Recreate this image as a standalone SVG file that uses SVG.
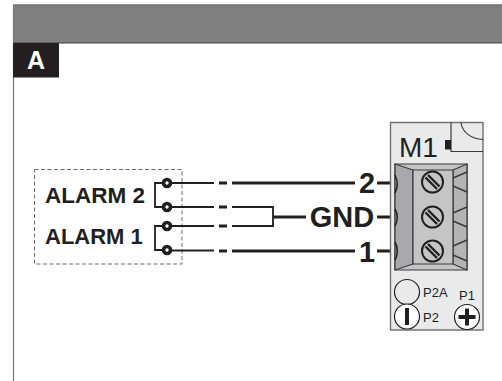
<svg xmlns="http://www.w3.org/2000/svg" width="502" height="381" viewBox="0 0 502 381">
<style>
text{font-family:"Liberation Sans",Arial,sans-serif;fill:#231f20}
.b{font-weight:bold}
.w{fill:none;stroke:#231f20;stroke-width:2.800}
.t{fill:none;stroke:#231f20;stroke-width:1.800}
.o{stroke:#3a3a3c;stroke-width:1.200;stroke-linejoin:round}
.s{fill:none;stroke:#3a3a3c;stroke-width:1.500}
.p{fill:#fff;stroke:#231f20;stroke-width:3.600}
</style>
<defs>
<g id="screw"><circle r="10.500" fill="#c4c5c7" stroke="#231f20" stroke-width="2"/><path d="M-7-4.500 4.500 7M-4.500-7 7 4.500" fill="none" stroke="#231f20" stroke-width="2.400"/></g>
</defs>
<g id="header">
<rect x="13" y="4.500" width="489" height="38.500" fill="#808083"/>
<path d="M13 43H502" stroke="#3f3f41" stroke-width="1.200" fill="none"/>
<path d="M13 5H502" stroke="#6a6a6c" stroke-width="1" fill="none"/>
<path d="M13.500 5V381" stroke="#77777a" stroke-width="1.200" fill="none"/>
</g>
<g id="tab-a">
<rect x="13" y="43" width="46" height="34.500" fill="#231f20"/>
<text x="36" y="69" text-anchor="middle" class="b" font-size="25" style="fill:#fff">A</text>
</g>
<g id="alarm-box">
<rect x="34.500" y="169.500" width="147.500" height="94.500" fill="none" stroke="#6d6e71" stroke-width="1" stroke-dasharray="4 2.500"/>
<text x="45" y="203" class="b" font-size="22.500">ALARM 2</text>
<text x="45" y="244" class="b" font-size="22">ALARM 1</text>
</g>
<g id="connectors">
<path class="t" d="M167 183H155V207H167M167 226H155V250H167"/>
<path class="t" d="M167 183H214M167 207H214M167 226H214M167 250.500H214"/>
<path class="w" d="M219 183H227M219 207H227M219 226H227M219 251H227"/>
<path class="w" d="M232 183H355M232 251H355"/>
<path class="t" d="M232 207H273V226H232"/>
<path class="w" d="M273 217H306M377 183H397M377 217H397M377 251H397"/>
</g>
<g id="terminals">
<circle class="p" cx="167" cy="183" r="3.500"/>
<circle class="p" cx="167" cy="207" r="3.500"/>
<circle class="p" cx="167" cy="226" r="3.500"/>
<circle class="p" cx="167" cy="250" r="3.500"/>
</g>
<g id="labels">
<text x="367" y="193" text-anchor="middle" class="b" font-size="29">2</text>
<text x="342" y="226.500" text-anchor="middle" class="b" font-size="29">GND</text>
<text x="367" y="262" text-anchor="middle" class="b" font-size="29">1</text>
</g>
<g id="device-m1">
<rect x="390.500" y="122.500" width="92.500" height="207.500" fill="#e9eaeb" stroke="#6d6e71" stroke-width="1.400"/>
<path d="M451 122.500V151.500H483" fill="none" stroke="#3a3a3c" stroke-width="1.200"/>
<path d="M461 122.500C462 132 471 139 483 139.500" fill="none" stroke="#3a3a3c" stroke-width="1.200"/>
<rect x="445" y="140" width="6" height="9.500" fill="#231f20"/>
<text x="399" y="157" font-size="28">M1</text>
<path class="o" d="M395 164H467V270H395Z" fill="#c4c5c7"/>
<path class="o" d="M395 164 413 170V264L395 270Z" fill="#a7a9ac"/>
<path class="o" d="M453 170 467 164V270L453 264Z" fill="#b3b4b6"/>
<path class="o" d="M413 170H453V264H413Z" fill="#c4c5c7"/>
<path class="s" d="M453 178 467 172M453 186 467 192M453 213 467 207M453 221 467 227M453 246 467 240M453 255 467 261"/>
<path d="M395 175C398 181 398 187 395 193M395 209C398 214 398 221 395 226M395 242C398 247 398 255 395 260" fill="none" stroke="#231f20" stroke-width="1.500"/>
<use href="#screw" x="432.500" y="182"/>
<use href="#screw" x="432.500" y="217"/>
<use href="#screw" x="432.500" y="251"/>
<circle cx="407" cy="292" r="12.500" fill="#e9eaeb" stroke="#231f20" stroke-width="1.200"/>
<circle cx="407" cy="316.500" r="12.500" fill="#fff" stroke="#231f20" stroke-width="1.200"/>
<rect x="405" y="308" width="4" height="17" fill="#231f20"/>
<circle cx="467" cy="317" r="12.500" fill="#fff" stroke="#231f20" stroke-width="1.200"/>
<path d="M467 308.500V325.500M458.500 317H475.500" stroke="#231f20" stroke-width="4" fill="none"/>
<text x="423" y="297" font-size="13">P2A</text>
<text x="423" y="322" font-size="13">P2</text>
<text x="459" y="300" font-size="13">P1</text>
</g>
</svg>
